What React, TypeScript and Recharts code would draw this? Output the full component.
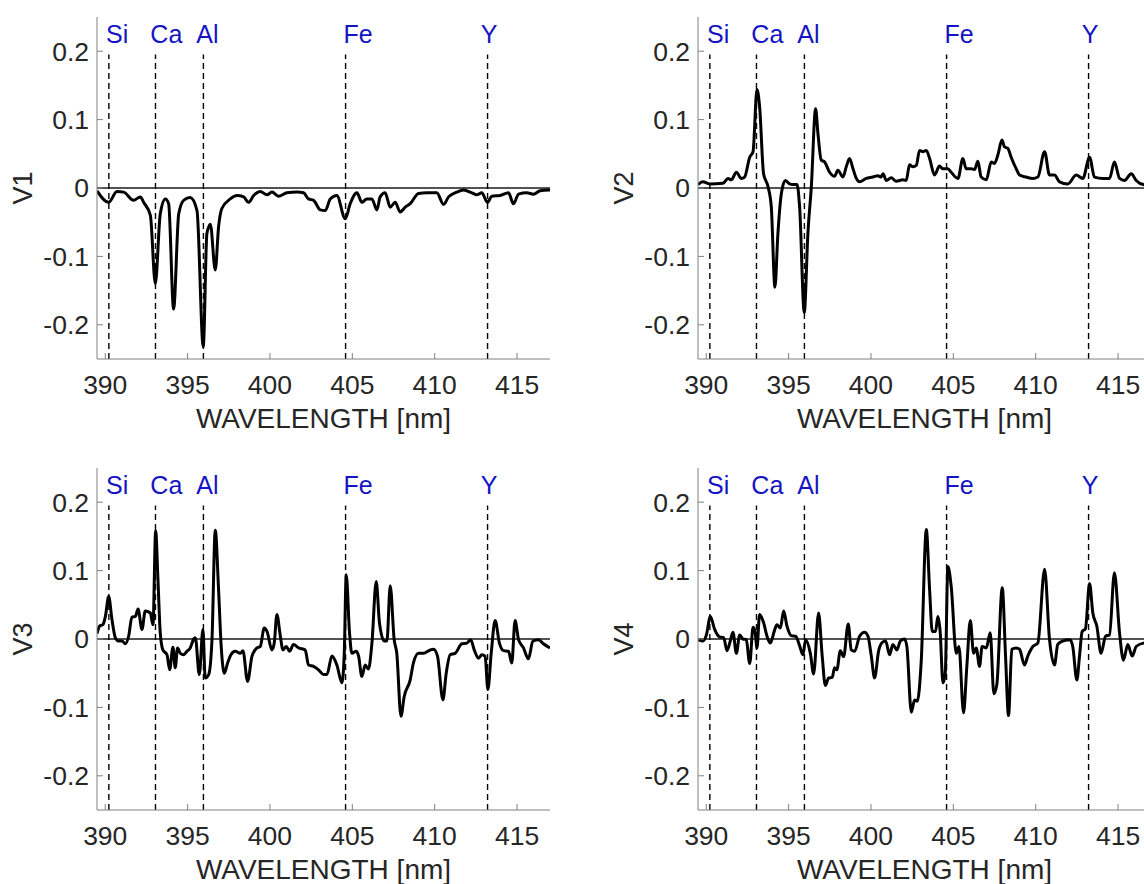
import React from 'react';
import { LineChart, Line, XAxis, YAxis, ReferenceLine, ReferenceDot } from 'recharts';

const xTicks = [390, 395, 400, 405, 410, 415];
const yTicks = [-0.2, -0.1, 0, 0.1, 0.2];

const elementNames = ['Si', 'Ca', 'Al', 'Fe', 'Y'];
const elementLineX = [390.22, 393.05, 395.96, 404.59, 413.21];
const elementTextX = [390.05, 392.74, 395.53, 404.47, 412.8];

const v1Wl = [389.5, 390.21, 390.71, 391.12, 391.72, 392.13, 392.33, 392.74, 393.04, 393.34, 393.65, 393.85, 394.15, 394.46, 394.76, 395.16, 395.57, 395.95, 396.17, 396.38, 396.68, 396.88, 397.08, 397.59, 397.99, 398.4, 398.7, 399.01, 399.41, 399.82, 400.12, 400.52, 401.03, 401.64, 402.04, 402.34, 402.65, 403.05, 403.36, 403.66, 404.06, 404.57, 404.87, 405.28, 405.58, 405.88, 406.19, 406.49, 406.69, 406.99, 407.3, 407.6, 407.91, 408.21, 408.51, 409.02, 409.52, 410.13, 410.54, 410.84, 411.34, 411.75, 412.25, 412.56, 412.86, 413.2, 413.47, 413.97, 414.48, 414.78, 415.09, 415.59, 416.0, 416.4, 417.0];
const v1Val = [-0.004, -0.021, -0.005, -0.006, -0.018, -0.013, -0.021, -0.04, -0.14, -0.038, -0.016, -0.023, -0.177, -0.038, -0.018, -0.014, -0.033, -0.232, -0.067, -0.053, -0.12, -0.057, -0.03, -0.016, -0.011, -0.013, -0.021, -0.011, -0.005, -0.01, -0.006, -0.012, -0.007, -0.006, -0.007, -0.016, -0.018, -0.032, -0.033, -0.016, -0.011, -0.045, -0.023, -0.007, -0.021, -0.016, -0.016, -0.032, -0.013, -0.007, -0.028, -0.021, -0.035, -0.028, -0.023, -0.008, -0.007, -0.007, -0.024, -0.013, -0.006, -0.003, -0.007, -0.01, -0.007, -0.021, -0.012, -0.011, -0.007, -0.023, -0.009, -0.007, -0.009, -0.004, -0.003];

const v2Wl = [389.5, 389.8, 390.21, 391.02, 391.32, 391.52, 391.83, 392.13, 392.33, 392.64, 392.84, 393.08, 393.24, 393.48, 393.75, 393.95, 394.17, 394.35, 394.56, 394.8, 395.06, 395.26, 395.51, 395.67, 395.95, 396.17, 396.38, 396.64, 396.78, 396.98, 397.19, 397.49, 397.79, 397.99, 398.3, 398.5, 398.7, 398.91, 399.11, 399.31, 399.71, 400.12, 400.42, 400.62, 400.73, 400.93, 401.23, 401.53, 401.94, 402.14, 402.34, 402.55, 402.75, 402.95, 403.15, 403.36, 403.56, 403.86, 404.16, 404.37, 404.67, 404.87, 405.28, 405.58, 405.78, 406.09, 406.29, 406.49, 406.69, 407.0, 407.3, 407.5, 407.7, 407.95, 408.11, 408.31, 408.51, 408.82, 409.02, 409.42, 409.83, 410.13, 410.54, 410.84, 411.14, 411.45, 411.95, 412.46, 412.86, 413.27, 413.57, 414.08, 414.48, 414.78, 415.09, 415.39, 415.8, 416.1, 416.54, 417.0];
const v2Val = [0.005, 0.009, 0.006, 0.007, 0.014, 0.012, 0.023, 0.014, 0.016, 0.045, 0.053, 0.144, 0.119, 0.021, 0.002, -0.028, -0.145, -0.067, -0.008, 0.011, 0.006, 0.005, 0.005, -0.028, -0.182, -0.067, 0.002, 0.116, 0.08, 0.041, 0.038, 0.023, 0.017, 0.026, 0.016, 0.031, 0.043, 0.028, 0.014, 0.009, 0.014, 0.016, 0.018, 0.016, 0.021, 0.011, 0.015, 0.01, 0.012, 0.011, 0.034, 0.031, 0.033, 0.055, 0.053, 0.055, 0.043, 0.019, 0.032, 0.028, 0.028, 0.023, 0.014, 0.043, 0.028, 0.028, 0.027, 0.039, 0.016, 0.012, 0.038, 0.036, 0.048, 0.07, 0.06, 0.058, 0.045, 0.028, 0.019, 0.016, 0.014, 0.016, 0.053, 0.019, 0.019, 0.009, 0.006, 0.019, 0.014, 0.045, 0.016, 0.014, 0.014, 0.038, 0.014, 0.011, 0.021, 0.011, 0.005, 0.004];

const v3Wl = [389.5, 389.66, 389.86, 390.01, 390.21, 390.41, 390.61, 390.81, 391.02, 391.22, 391.42, 391.62, 391.83, 391.99, 392.23, 392.43, 392.74, 392.84, 392.9, 393.06, 393.2, 393.34, 393.5, 393.75, 393.91, 394.11, 394.25, 394.39, 394.56, 394.76, 394.96, 395.16, 395.37, 395.47, 395.71, 395.93, 396.07, 396.28, 396.48, 396.68, 396.88, 397.04, 397.23, 397.43, 397.63, 397.89, 398.2, 398.36, 398.64, 398.91, 399.21, 399.41, 399.65, 399.82, 400.12, 400.26, 400.42, 400.62, 400.79, 400.99, 401.19, 401.43, 401.74, 402.14, 402.34, 402.65, 402.95, 403.25, 403.46, 403.76, 404.06, 404.37, 404.51, 404.63, 404.83, 404.97, 405.24, 405.38, 405.58, 405.78, 405.98, 406.19, 406.45, 406.65, 406.94, 407.1, 407.3, 407.54, 407.7, 407.95, 408.15, 408.51, 408.71, 409.02, 409.32, 409.73, 409.93, 410.17, 410.5, 410.7, 410.94, 411.24, 411.65, 411.95, 412.19, 412.4, 412.66, 412.86, 413.06, 413.23, 413.43, 413.67, 413.93, 414.18, 414.48, 414.68, 414.88, 415.09, 415.39, 415.69, 415.96, 416.3, 416.6, 417.0];
const v3Val = [0.008, 0.019, 0.021, 0.033, 0.062, 0.028, 0.002, -0.003, -0.003, -0.007, 0.004, 0.032, 0.033, 0.044, 0.014, 0.041, 0.038, 0.026, 0.021, 0.158, 0.087, 0.009, -0.016, -0.023, -0.045, -0.012, -0.042, -0.013, -0.021, -0.023, -0.018, -0.013, 0.0, 0.002, -0.052, 0.014, -0.057, -0.052, -0.001, 0.159, 0.072, -0.011, -0.05, -0.035, -0.023, -0.018, -0.021, -0.017, -0.062, -0.025, -0.013, -0.011, 0.016, 0.011, -0.016, -0.006, 0.036, 0.006, -0.016, -0.011, -0.018, -0.008, -0.013, -0.016, -0.038, -0.04, -0.045, -0.052, -0.052, -0.025, -0.038, -0.064, -0.021, 0.094, 0.009, -0.021, -0.018, -0.025, -0.055, -0.038, -0.044, -0.006, 0.084, 0.023, -0.003, -0.003, 0.078, -0.001, -0.021, -0.113, -0.084, -0.06, -0.035, -0.021, -0.021, -0.016, -0.015, -0.025, -0.089, -0.05, -0.023, -0.021, -0.007, -0.006, -0.001, -0.016, -0.028, -0.023, -0.025, -0.074, -0.021, 0.027, -0.006, -0.017, -0.018, -0.035, 0.027, -0.001, -0.013, -0.029, -0.003, -0.001, -0.007, -0.013];

const v4Wl = [389.5, 389.8, 390.01, 390.25, 390.51, 390.81, 391.06, 391.26, 391.46, 391.62, 391.83, 392.03, 392.23, 392.43, 392.64, 392.84, 392.96, 393.08, 393.24, 393.48, 393.69, 393.89, 394.15, 394.29, 394.5, 394.7, 394.9, 395.16, 395.43, 395.67, 395.87, 396.03, 396.32, 396.52, 396.82, 397.04, 397.23, 397.43, 397.65, 397.79, 397.93, 398.14, 398.34, 398.62, 398.8, 399.01, 399.31, 399.61, 399.82, 400.02, 400.22, 400.46, 400.69, 400.89, 401.13, 401.33, 401.58, 401.78, 402.04, 402.18, 402.45, 402.65, 402.81, 403.05, 403.36, 403.56, 403.72, 403.92, 404.06, 404.2, 404.37, 404.51, 404.67, 404.87, 405.18, 405.34, 405.62, 405.82, 406.03, 406.23, 406.39, 406.59, 406.75, 407.0, 407.24, 407.46, 407.64, 407.97, 408.17, 408.35, 408.55, 408.82, 409.02, 409.32, 409.52, 409.83, 410.13, 410.54, 410.84, 411.14, 411.34, 411.65, 412.09, 412.25, 412.5, 412.66, 412.82, 413.02, 413.27, 413.47, 413.71, 413.97, 414.24, 414.48, 414.78, 415.09, 415.33, 415.59, 415.86, 416.1, 416.54, 417.0];
const v4Val = [-0.001, -0.003, 0.006, 0.033, 0.014, 0.003, 0.002, -0.017, -0.003, 0.01, -0.021, 0.006, 0.0, -0.001, -0.036, 0.017, 0.011, -0.013, 0.036, 0.024, 0.004, -0.006, 0.013, 0.021, 0.016, 0.041, 0.019, 0.005, 0.004, -0.01, -0.023, -0.001, -0.021, -0.051, 0.038, -0.025, -0.068, -0.057, -0.056, -0.042, -0.045, -0.017, -0.026, 0.022, -0.016, -0.018, 0.004, 0.01, 0.004, -0.025, -0.057, -0.018, -0.005, -0.003, -0.023, -0.008, -0.016, -0.003, 0.0, -0.011, -0.107, -0.089, -0.091, -0.033, 0.16, 0.072, 0.011, 0.011, 0.033, 0.011, -0.064, -0.05, 0.106, 0.077, -0.021, -0.011, -0.108, -0.04, 0.027, -0.021, -0.013, -0.04, -0.011, -0.013, 0.009, -0.08, -0.067, 0.075, -0.025, -0.112, -0.015, -0.013, -0.015, -0.038, -0.025, -0.011, -0.006, 0.102, -0.001, -0.038, -0.008, -0.003, -0.001, -0.011, -0.06, -0.025, 0.011, 0.015, 0.081, 0.038, 0.019, -0.021, 0.004, 0.006, 0.097, 0.009, -0.031, -0.008, -0.025, -0.011, -0.006, -0.005];

const FONT = '"Liberation Sans", Arial, Helvetica, sans-serif';
const AXIS_GRAY = '#808080';
const TEXT_DARK = '#262626';
const LABEL_BLUE = '#1414c4';

interface PanelProps {
  name: string;
  wl: number[];
  val: number[];
  left: number;
  top: number;
}

const Panel: React.FC<PanelProps> = ({ name, wl, val, left, top }) => {
  const data = wl.map((w, i) => ({ wl: w, v: val[i] }));

  return (
    <div style={{ position: 'absolute', left, top }}>
      <LineChart width={560} height={440} data={data} margin={{ top: 17, right: 10, left: 0, bottom: 0 }}>
        <XAxis
          dataKey="wl"
          type="number"
          domain={[389.5, 417]}
          allowDataOverflow
          ticks={xTicks}
          height={81}
          stroke={AXIS_GRAY}
          tickSize={-6}
          tickMargin={22}
          tick={{ fontSize: 26.5, fill: TEXT_DARK, fontFamily: FONT }}
          label={({ viewBox }: any) => (
            <text
              x={viewBox.x + viewBox.width / 2}
              y={viewBox.y + 69}
              textAnchor="middle"
              fontSize={28}
              fontFamily={FONT}
              fill={TEXT_DARK}
            >
              WAVELENGTH [nm]
            </text>
          )}
        />
        <XAxis
          xAxisId="top"
          orientation="top"
          type="number"
          domain={[389.5, 417]}
          allowDataOverflow
          ticks={xTicks}
          height={0}
          stroke={AXIS_GRAY}
          tickSize={-6}
          tick={false}
        />
        <YAxis
          type="number"
          domain={[-0.25, 0.25]}
          allowDataOverflow
          ticks={yTicks}
          width={97}
          stroke={AXIS_GRAY}
          tickSize={-6}
          tickMargin={14}
          tick={{ fontSize: 26.5, fill: TEXT_DARK, fontFamily: FONT }}
          label={({ viewBox }: any) => {
            const cx = viewBox.x + 23;
            const cy = viewBox.y + viewBox.height / 2;
            return (
              <text
                x={cx}
                y={cy}
                transform={`rotate(-90, ${cx}, ${cy})`}
                textAnchor="middle"
                dominantBaseline="central"
                fontSize={27}
                fontFamily={FONT}
                fill={TEXT_DARK}
              >
                {name}
              </text>
            );
          }}
        />
        <YAxis
          yAxisId="right"
          orientation="right"
          type="number"
          domain={[-0.25, 0.25]}
          allowDataOverflow
          ticks={yTicks}
          width={0}
          stroke={AXIS_GRAY}
          tickSize={-6}
          tick={false}
        />
        <ReferenceLine y={0} stroke="#1a1a1a" strokeWidth={1.4} />
        {elementLineX.map((x, i) => (
          <ReferenceLine
            key={`line-${i}`}
            segment={[{ x, y: -0.25 }, { x, y: 0.195 }]}
            stroke="#000"
            strokeWidth={1.4}
            strokeDasharray="6 4"
          />
        ))}
        {elementTextX.map((x, i) => (
          <ReferenceDot
            key={`el-${i}`}
            x={x}
            y={0.2114}
            r={0}
            shape={(p: any) => (
              <text x={p.cx} y={p.cy} fontSize={25} fontFamily={FONT} fill={LABEL_BLUE}>
                {elementNames[i]}
              </text>
            )}
          />
        ))}
        <Line
          type="monotone"
          dataKey="v"
          stroke="#000"
          strokeWidth={3}
          strokeLinejoin="round"
          dot={false}
          isAnimationActive={false}
        />
      </LineChart>
    </div>
  );
};

const App: React.FC = () => {
  return (
    <div style={{ position: 'fixed', left: 0, top: 0, width: 1144, height: 884, overflow: 'hidden', background: '#fff' }}>
      <Panel name="V1" wl={v1Wl} val={v1Val} left={0} top={0} />
      <Panel name="V2" wl={v2Wl} val={v2Val} left={601} top={0} />
      <Panel name="V3" wl={v3Wl} val={v3Val} left={0} top={451} />
      <Panel name="V4" wl={v4Wl} val={v4Val} left={601} top={451} />
    </div>
  );
};

export default App;
